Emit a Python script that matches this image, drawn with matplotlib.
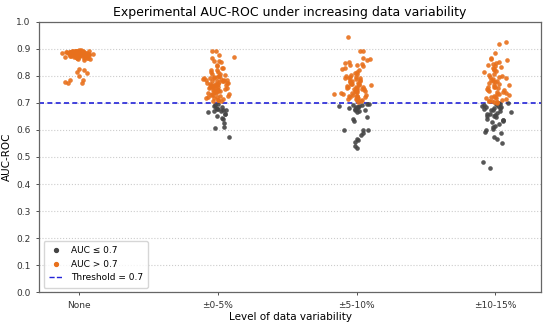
import numpy as np
import matplotlib
matplotlib.use("Agg")
import matplotlib.pyplot as plt
from matplotlib.lines import Line2D

# 카테고리 (데이터 변동 수준)
categories = ["None", "±0-5%", "±5-10%", "±10-15%"]

# 각 카테고리별 AUC-ROC 값
auc_none = [
    0.895, 0.894, 0.893, 0.893, 0.892, 0.892, 0.891, 0.891, 0.890, 0.890,
    0.890, 0.889, 0.889, 0.889, 0.888, 0.888, 0.888, 0.888, 0.887, 0.887,
    0.887, 0.887, 0.886, 0.886, 0.886, 0.886, 0.885, 0.885, 0.885, 0.885,
    0.884, 0.884, 0.884, 0.884, 0.883, 0.883, 0.883, 0.883, 0.882, 0.882,
    0.882, 0.882, 0.881, 0.881, 0.881, 0.880, 0.880, 0.880, 0.880, 0.879,
    0.879, 0.879, 0.878, 0.878, 0.878, 0.877, 0.877, 0.877, 0.876, 0.876,
    0.875, 0.875, 0.875, 0.874, 0.874, 0.873, 0.873, 0.872, 0.872, 0.871,
    0.870, 0.870, 0.869, 0.868, 0.867, 0.866, 0.865, 0.864, 0.863, 0.862,
    0.878, 0.881, 0.884, 0.886, 0.889, 0.876, 0.883, 0.887,
    0.866, 0.857, 0.824, 0.823, 0.815, 0.810, 0.798, 0.786, 0.783, 0.775,
    0.773, 0.776,
]
auc_0_5 = [
    0.892, 0.891, 0.876, 0.869, 0.866, 0.855, 0.855, 0.850, 0.841, 0.835,
    0.830, 0.827, 0.822, 0.820, 0.815, 0.812, 0.808, 0.805, 0.803, 0.800,
    0.798, 0.796, 0.794, 0.792, 0.790, 0.789, 0.787, 0.785, 0.784, 0.782,
    0.780, 0.779, 0.777, 0.775, 0.774, 0.772, 0.770, 0.769, 0.767, 0.765,
    0.764, 0.762, 0.760, 0.759, 0.757, 0.755, 0.754, 0.752, 0.750, 0.749,
    0.747, 0.745, 0.744, 0.742, 0.740, 0.738, 0.736, 0.734, 0.732, 0.730,
    0.728, 0.726, 0.724, 0.722, 0.720, 0.718, 0.716, 0.714, 0.712, 0.710,
    0.708, 0.705, 0.790, 0.780, 0.770, 0.760, 0.785, 0.765, 0.745,
    0.695, 0.693, 0.690, 0.685, 0.680, 0.678, 0.676, 0.675, 0.672, 0.670,
    0.668, 0.665, 0.660, 0.657, 0.650, 0.645, 0.640, 0.625, 0.610, 0.607,
    0.575,
]
auc_5_10 = [
    0.943, 0.892, 0.890, 0.866, 0.862, 0.857, 0.852, 0.848, 0.845, 0.840,
    0.838, 0.835, 0.830, 0.825, 0.820, 0.815, 0.810, 0.806, 0.803, 0.800,
    0.797, 0.795, 0.792, 0.790, 0.787, 0.785, 0.782, 0.780, 0.778, 0.775,
    0.773, 0.770, 0.768, 0.766, 0.764, 0.762, 0.760, 0.758, 0.756, 0.754,
    0.752, 0.750, 0.748, 0.746, 0.744, 0.742, 0.740, 0.738, 0.736, 0.734,
    0.732, 0.730, 0.728, 0.726, 0.724, 0.722, 0.720, 0.718, 0.716, 0.714,
    0.712, 0.710, 0.707, 0.704, 0.790, 0.780, 0.770, 0.750, 0.760, 0.740,
    0.725, 0.715,
    0.697, 0.695, 0.693, 0.691, 0.690, 0.688, 0.686, 0.684, 0.682, 0.680,
    0.678, 0.675, 0.672, 0.668, 0.665, 0.648, 0.640, 0.633, 0.600, 0.599,
    0.598, 0.587, 0.580, 0.568, 0.562, 0.556, 0.541, 0.534,
]
auc_10_15 = [
    0.925, 0.919, 0.884, 0.867, 0.862, 0.857, 0.852, 0.848, 0.845, 0.840,
    0.836, 0.832, 0.828, 0.825, 0.820, 0.816, 0.812, 0.808, 0.804, 0.800,
    0.797, 0.794, 0.790, 0.787, 0.784, 0.780, 0.777, 0.774, 0.770, 0.767,
    0.764, 0.760, 0.757, 0.754, 0.750, 0.749, 0.746, 0.743, 0.740, 0.737,
    0.734, 0.731, 0.728, 0.725, 0.722, 0.719, 0.716, 0.713, 0.710, 0.708,
    0.706, 0.705, 0.704, 0.703, 0.702, 0.701, 0.780, 0.760, 0.740, 0.720,
    0.700, 0.698, 0.696, 0.694, 0.692, 0.690, 0.688, 0.686, 0.684, 0.682,
    0.680, 0.678, 0.675, 0.672, 0.670, 0.667, 0.664, 0.660, 0.658, 0.655,
    0.652, 0.650, 0.646, 0.642, 0.638, 0.636, 0.633, 0.628, 0.622, 0.615,
    0.610, 0.605, 0.598, 0.592, 0.587, 0.574, 0.568, 0.550, 0.482, 0.458,
]

THRESHOLD = 0.7
COLOR_LOW = "#454545"
COLOR_HIGH = "#e8701c"
COLOR_LINE = "#2323d8"

fig = plt.figure(figsize=(5.5, 3.27), dpi=100)
ax = fig.add_axes([0.071, 0.106, 0.913, 0.828])

# 지터 위치 (가로 흩뿌림만, 값은 그대로)
rng = np.random.default_rng(7)
for i, vals in enumerate([auc_none, auc_0_5, auc_5_10, auc_10_15]):
    vals = np.array(vals)
    xs = i + np.clip(rng.normal(0, 0.05, len(vals)), -0.17, 0.17)
    low = vals <= THRESHOLD
    ax.scatter(xs[low], vals[low], s=11, color=COLOR_LOW, alpha=0.9, linewidths=0, zorder=3)
    ax.scatter(xs[~low], vals[~low], s=11, color=COLOR_HIGH, alpha=0.9, linewidths=0, zorder=3)

ax.axhline(THRESHOLD, color=COLOR_LINE, linestyle="--", linewidth=1.2, dashes=(3, 2), zorder=2)

ax.set_xticks(range(len(categories)))
ax.set_xticklabels(categories)
ax.set_xlim(-0.29, 3.33)
ax.set_ylim(0, 1.0)
ax.set_yticks(np.arange(0, 1.01, 0.1))
ax.yaxis.grid(True, linestyle=":", color="#cccccc", linewidth=0.8)
ax.set_axisbelow(True)

ax.set_title("Experimental AUC-ROC under increasing data variability", fontsize=9, pad=4)
ax.set_xlabel("Level of data variability", fontsize=7.5, labelpad=2)
ax.set_ylabel("AUC-ROC", fontsize=7.5, labelpad=3)
ax.tick_params(labelsize=6.5, length=2.5, width=0.6, colors="#333333")
for s in ax.spines.values():
    s.set_color("#666666")
    s.set_linewidth(0.9)

handles = [
    Line2D([], [], marker="o", linestyle="", color=COLOR_LOW, markersize=2.8, label="AUC ≤ 0.7"),
    Line2D([], [], marker="o", linestyle="", color=COLOR_HIGH, markersize=2.8, label="AUC > 0.7"),
    Line2D([], [], color=COLOR_LINE, linestyle="--", linewidth=1.0, label="Threshold = 0.7"),
]
ax.legend(handles=handles, loc="lower left", fontsize=6.5, frameon=True,
          edgecolor="#cccccc", borderpad=0.6, handlelength=1.6)

fig.savefig("out.png", dpi=100)
plt.close(fig)
